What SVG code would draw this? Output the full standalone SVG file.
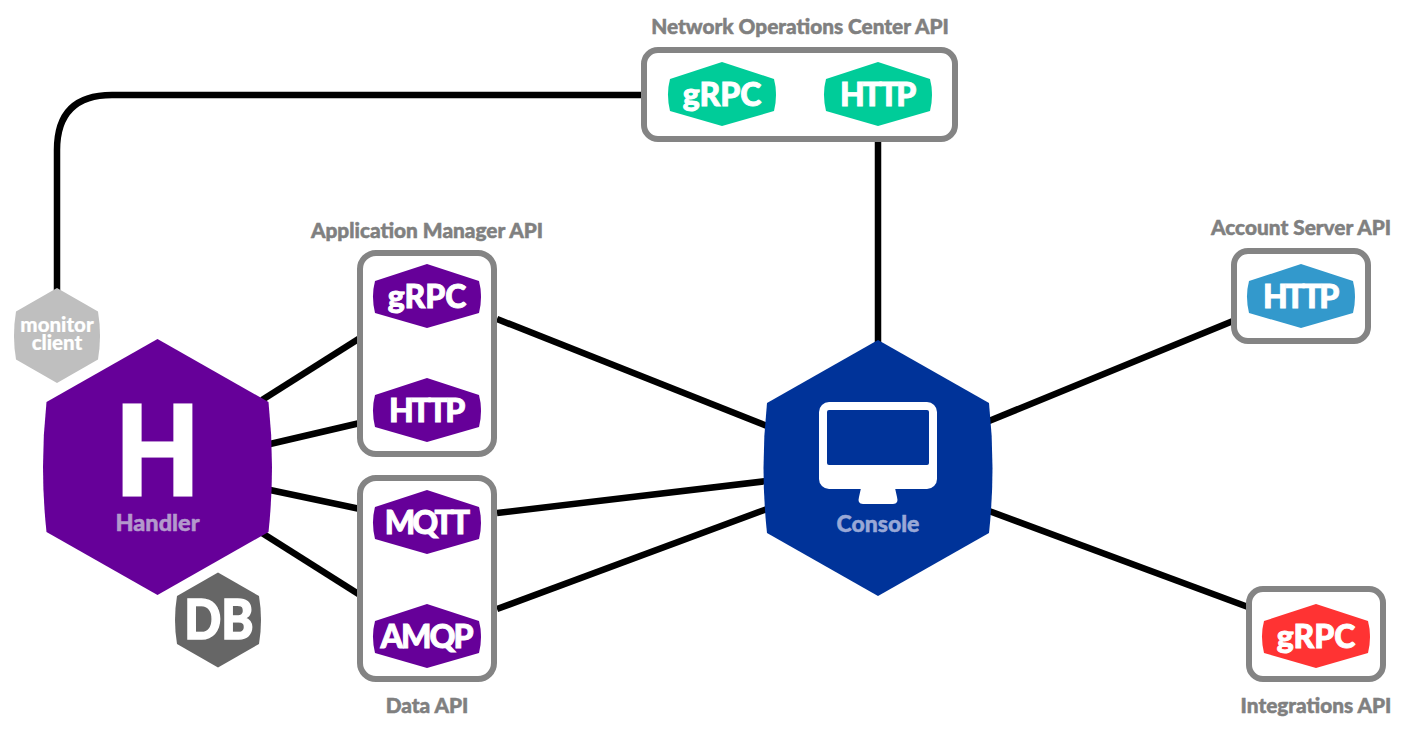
<svg xmlns="http://www.w3.org/2000/svg" width="1404" height="738" viewBox="0 0 1404 738">
<style>
text{font-family:"Lato","Liberation Sans",sans-serif;font-weight:900;text-anchor:middle}
.c{fill:none;stroke:#000;stroke-width:6.500}
.box{fill:#fff;stroke:#848484;stroke-width:6}
.cap{fill:#808080;stroke:#808080;stroke-width:.5;font-size:20.800px}
.pill{fill:#fff;stroke:#fff;stroke-width:.9;font-size:32px}
.n{letter-spacing:-2.400px}
.q{letter-spacing:-3px}
.a{letter-spacing:-2px}
.p{fill:#660099}.g{fill:#00cc99}.b{fill:#3399cc}.r{fill:#ff3333}
</style>
<defs>
<path id="sh" d="M0-32L52-15Q56 0 52 17L0 32L-52 17Q-56 0-52-15Z"/>
<path id="bh" d="M0-128L111-65Q118 0 111 65L0 128L-111 65Q-118 0-111-65Z"/>
<path id="mh" d="M0-47.500L41-24Q45 0 41 24L0 47.500L-41 24Q-45 0-41-24Z"/>
</defs>
<rect width="1404" height="738" fill="#fff"/>
<g id="connectors">
<path class="c" d="M57 292V150Q57 95 112 95H644"/>
<path class="c" d="M878 139V345"/>
<path class="c" d="M262 400L360 338"/>
<path class="c" d="M270 444L360 423"/>
<path class="c" d="M270 490L360 509"/>
<path class="c" d="M262 533L360 595"/>
<path class="c" d="M497 319L767 426"/>
<path class="c" d="M497 513L767 481"/>
<path class="c" d="M497 609L767 509"/>
<path class="c" d="M989 421L1233 321"/>
<path class="c" d="M989 511L1248 607"/>
</g>
<g id="noc-api">
<text class="cap" x="800" y="34">Network Operations Center API</text>
<rect class="box" x="644" y="50" width="311" height="89" rx="14"/>
<use href="#sh" class="g" x="722" y="94"/><text class="pill" x="722" y="106">gRPC</text>
<use href="#sh" class="g" x="878" y="94"/><text class="pill n" x="877" y="105.500">HTTP</text>
</g>
<g id="app-api">
<text class="cap" x="427" y="238">Application Manager API</text>
<rect class="box" x="360" y="253" width="134" height="201" rx="16"/>
<use href="#sh" class="p" x="427" y="296"/><text class="pill" x="427" y="308">gRPC</text>
<use href="#sh" class="p" x="427" y="410"/><text class="pill n" x="426" y="421.500">HTTP</text>
</g>
<g id="data-api">
<rect class="box" x="360" y="478" width="134" height="201" rx="16"/>
<use href="#sh" class="p" x="427" y="522"/><text class="pill q" x="426" y="533.500">MQTT</text>
<use href="#sh" class="p" x="427" y="636"/><text class="pill a" x="426" y="647.500">AMQP</text>
<text class="cap" x="427" y="713">Data API</text>
</g>
<g id="account-api">
<text class="cap" x="1301" y="235">Account Server API</text>
<rect class="box" x="1234" y="251" width="134" height="90" rx="14"/>
<use href="#sh" class="b" x="1301" y="296"/><text class="pill n" x="1300" y="307.500">HTTP</text>
</g>
<g id="integrations-api">
<rect class="box" x="1249" y="589" width="134" height="90" rx="14"/>
<use href="#sh" class="r" x="1316" y="636"/><text class="pill" x="1316" y="648">gRPC</text>
<text class="cap" x="1316" y="713">Integrations API</text>
</g>
<g id="monitor-client">
<use href="#mh" fill="#bfbfbf" x="57" y="335.500"/>
<text fill="#fff" stroke="#fff" stroke-width=".2" font-size="20.500"><tspan x="57" y="332">monitor</tspan><tspan x="57" y="350">client</tspan></text>
</g>
<g id="handler">
<use href="#bh" class="p" x="157.500" y="467"/>
<text transform="translate(157.500 494.500) scale(.87 1)" fill="#fff" stroke="#fff" stroke-width="3" font-size="124">H</text>
<text x="157.500" y="531" fill="#b399cc" stroke="#b399cc" stroke-width=".5" font-size="23.500">Handler</text>
</g>
<g id="db">
<use href="#mh" fill="#666" x="218" y="620"/>
<text transform="translate(219 639) scale(.87 1)" fill="#fff" stroke="#fff" stroke-width="1.500" font-size="56">DB</text>
</g>
<g id="console">
<use href="#bh" fill="#003399" x="878" y="468"/>
<rect x="819" y="402" width="118" height="87" rx="10" fill="#fff"/>
<rect x="827" y="410" width="102" height="55" rx="2" fill="#003399"/>
<path d="M861 488H895L897 497Q899 504 893 504H863Q857 504 859 497Z" fill="#fff"/>
<text x="878" y="532" fill="#99a8d6" stroke="#99a8d6" stroke-width=".5" font-size="23">Console</text>
</g>
</svg>
